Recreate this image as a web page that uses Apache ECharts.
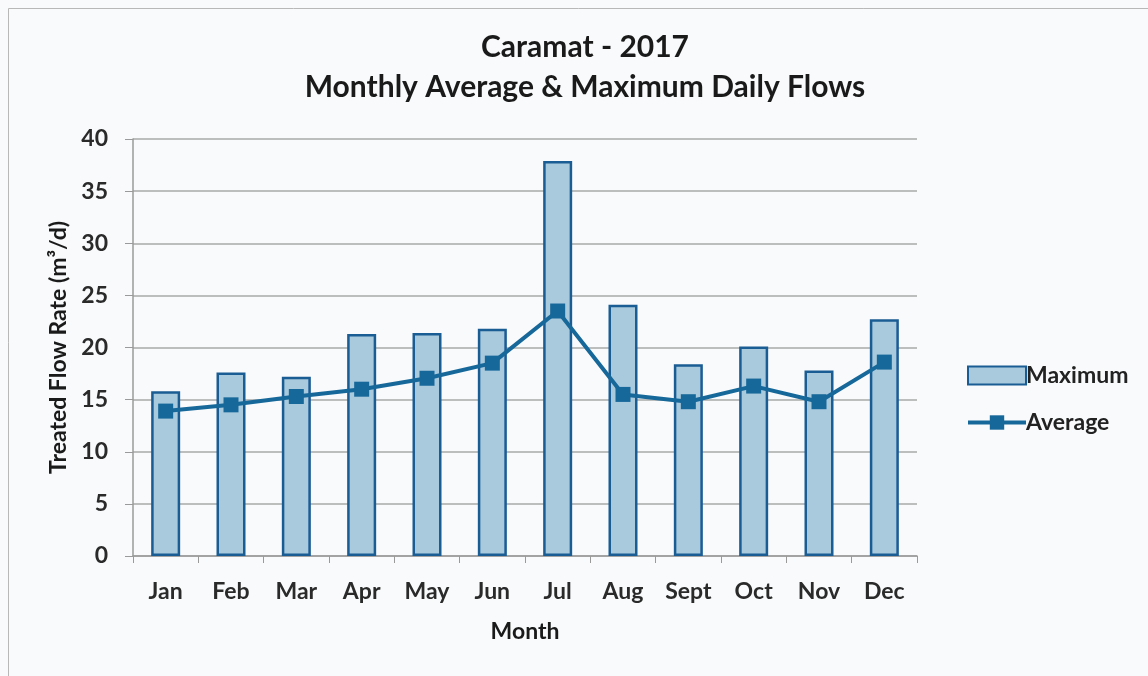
<!DOCTYPE html>
<html><head><meta charset="utf-8">
<script src="https://cdn.jsdelivr.net/npm/echarts@6/dist/echarts.min.js"></script>
<style>html,body{margin:0;padding:0;background:#f8fafb;}#c{width:1148px;height:676px;}</style>
</head><body><div id="c"></div>
<script>
const categories = ['Jan','Feb','Mar','Apr','May','Jun','Jul','Aug','Sept','Oct','Nov','Dec'];
const maximum = [15.8, 17.6, 17.2, 21.3, 21.4, 21.8, 37.9, 24.1, 18.4, 20.1, 17.8, 22.7];
const average = [13.9, 14.5, 15.3, 16.0, 17.05, 18.5, 23.5, 15.5, 14.8, 16.3, 14.8, 18.6];
const yTicks = [0,5,10,15,20,25,30,35,40];

const FONT = 'Lato';
const chart = echarts.init(document.getElementById('c'));
chart.setOption({
  backgroundColor: '#f8fafb',
  animation: false,
  graphic: [{type:'rect', shape:{x:8.5,y:8.5,width:1160,height:700}, style:{fill:'none', stroke:'#b8b8b8', lineWidth:1}}],
  title: [{
    text: 'Caramat - 2017\nMonthly Average & Maximum Daily Flows',
    left: 580, top: 22, textAlign: 'center',
    textStyle: {fontFamily: FONT, fontSize: 30, fontWeight: 'bold', color: '#1a1a1a', lineHeight: 40}
  }],
  legend: {
    orient: 'vertical', left: 961, top: 359, itemGap: 24,
    itemWidth: 58, itemHeight: 18,
    textStyle: {fontFamily: FONT, fontSize: 23, fontWeight: 'bold', color: '#222', padding:[0,0,0,-5]},
    data: [{name:'Maximum', icon:'rect'}, {name:'Average', lineStyle: {width: 4, color: '#17689a'}}]
  },
  grid: {left: 133, top: 139, width: 784, height: 417},
  xAxis: {
    type: 'category', data: categories,
    name: 'Month', nameLocation: 'middle', nameGap: 64,
    nameTextStyle: {fontFamily: FONT, fontSize: 23, fontWeight: 'bold', color: '#1a1a1a'},
    axisLine: {lineStyle: {color: '#9a9a9a', width: 1.5}},
    axisTick: {show: true, length: 7, lineStyle: {color: '#9a9a9a'}},
    axisLabel: {fontFamily: FONT, fontSize: 23, fontWeight: 'bold', color: '#2a2a2a', margin: 24}
  },
  yAxis: {
    type: 'value', min: 0, max: 40, interval: 5,
    name: 'Treated Flow Rate (m³/d)', nameLocation: 'middle', nameGap: 62,
    nameTextStyle: {fontFamily: FONT, fontSize: 23, fontWeight: 'bold', color: '#1a1a1a'},
    axisLine: {show: true, lineStyle: {color: '#9a9a9a', width: 1.5}},
    axisTick: {show: true, length: 8, lineStyle: {color: '#9a9a9a'}},
    axisLabel: {fontFamily: FONT, fontSize: 23, fontWeight: 'bold', color: '#2a2a2a', margin: 25,
      formatter: v => yTicks.includes(v) ? String(v) : ''},
    splitLine: {lineStyle: {color: '#a8a8a8', width: 1.5}}
  },
  series: [
    {
      name: 'Maximum', type: 'bar', data: maximum, barWidth: 29,
      itemStyle: {color: '#a9c9dd', borderColor: '#1a5c94', borderWidth: 2.5}
    },
    {
      name: 'Average', type: 'line', data: average,
      lineStyle: {color: '#17689a', width: 4},
      itemStyle: {color: '#17689a'},
      symbol: 'rect', symbolSize: 15, showSymbol: true
    }
  ]
});
</script></body></html>
